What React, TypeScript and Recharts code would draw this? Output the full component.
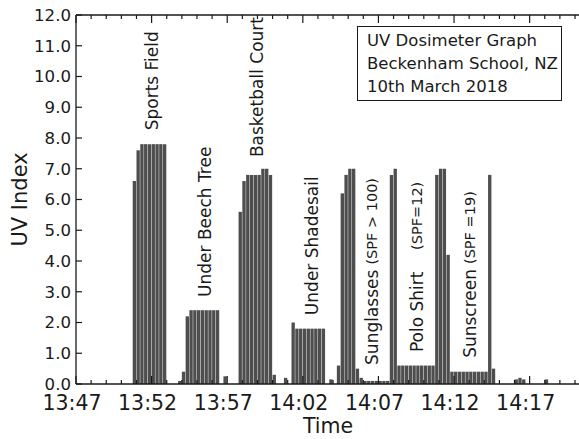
import { BarChart, Bar, XAxis, YAxis, ReferenceDot } from "recharts";

const FONT = "DejaVu Sans";
const INK = "#1a1a1a";
const BAR = "#4e4e4e";

// clock time of tick 0
const startHour = 13;
const startMinute = 47;

// dosimeter readings, one per 15 s from 13:47:00 (one row = one minute)
const uvReadings = [
  0, 0, 0, 0,
  0, 0, 0, 0,
  0, 0, 0, 0,
  0, 0, 0, 6.6,
  7.6, 7.8, 7.8, 7.8,
  7.8, 7.8, 7.8, 7.8,
  0, 0, 0, 0.1,
  0.4, 2.2, 2.4, 2.4,
  2.4, 2.4, 2.4, 2.4,
  2.4, 2.4, 0, 0.25,
  0, 0, 0, 5.6,
  6.6, 6.8, 6.8, 6.8,
  6.8, 7.0, 7.0, 6.8,
  0.3, 0, 0, 0.2,
  0, 2.0, 1.8, 1.8,
  1.8, 1.8, 1.8, 1.8,
  1.8, 1.8, 0, 0.15,
  0, 0.6, 6.2, 6.8,
  7.0, 7.0, 0.5, 0.2,
  0.1, 0.1, 0.1, 0.1,
  0.1, 0.1, 0.1, 6.8,
  7.0, 0.6, 0.6, 0.6,
  0.6, 0.6, 0.6, 0.6,
  0.6, 0.6, 0.6, 6.8,
  7.0, 7.0, 4.2, 0.4,
  0.4, 0.4, 0.4, 0.4,
  0.4, 0.4, 0.4, 0.4,
  0.4, 6.8, 0.5, 0,
  0, 0, 0, 0,
  0.15, 0.2, 0.15, 0,
  0, 0, 0, 0,
  0.15, 0, 0, 0,
  0, 0, 0, 0,
  0,
];

const minuteTicks = Array.from({ length: 34 }, (_, i) => i);
const majorTicks = [0, 5, 10, 15, 20, 25, 30];
const uvTicks = [0, 1, 2, 3, 4, 5, 6, 7, 8, 9, 10, 11, 12];

// vertical activity labels: minute, UV level where the text starts
const activities = [
  { t: 5.0, uv: 8.25, text: "Sports Field", note: "" },
  { t: 8.5, uv: 2.83, text: "Under Beech Tree", note: "" },
  { t: 11.95, uv: 7.38, text: "Basketball Court", note: "" },
  { t: 15.6, uv: 2.24, text: "Under Shadesail", note: "" },
  { t: 19.55, uv: 0.62, text: "Sunglasses", note: "(SPF > 100)" },
  { t: 22.55, uv: 1.04, text: "Polo Shirt", note: "" },
  { t: 22.55, uv: 4.36, text: "", note: "(SPF=12)" },
  { t: 26.05, uv: 0.85, text: "Sunscreen", note: "(SPF =19)" },
];

const data = uvReadings.map((uv, i) => ({ t: (i + 0.5) / 4, uv }));

function clock(m: number) {
  const total = startHour * 60 + startMinute + m;
  const h = Math.floor(total / 60);
  const mm = total % 60;
  return `${h}:${mm < 10 ? "0" : ""}${mm}`;
}

const BottomTick = (props: any) => {
  const { x, y, payload } = props;
  const major = majorTicks.includes(payload.value);
  return (
    <g>
      <line x1={x} x2={x} y1={y} y2={y - (major ? 8 : 4)} stroke={INK} strokeWidth={1.2} />
      {major && (
        <text x={x - 4} y={y + 26} textAnchor="middle" fontSize={20.5} fontFamily={FONT} fill={INK}>
          {clock(payload.value)}
        </text>
      )}
    </g>
  );
};

const TopTick = (props: any) => {
  const { x, y, payload } = props;
  const major = majorTicks.includes(payload.value);
  return <line x1={x} x2={x} y1={y} y2={y + (major ? 8 : 4)} stroke={INK} strokeWidth={1.2} />;
};

const LeftTick = (props: any) => {
  const { x, y, payload } = props;
  return (
    <g>
      <line x1={x} x2={x + 6} y1={y} y2={y} stroke={INK} strokeWidth={1.2} />
      <text x={x - 5} y={y} dy="0.36em" textAnchor="end" fontSize={16.6} fontFamily={FONT} fill={INK}>
        {payload.value.toFixed(1)}
      </text>
    </g>
  );
};

const RightTick = (props: any) => {
  const { x, y } = props;
  return <line x1={x} x2={x - 6} y1={y} y2={y} stroke={INK} strokeWidth={1.2} />;
};

const ActivityLabel = (text: string, note: string) => (props: any) => {
  const { cx, cy } = props;
  return (
    <text
      x={cx}
      y={cy}
      transform={`rotate(-90 ${cx} ${cy})`}
      dominantBaseline="central"
      fontFamily={FONT}
      fill={INK}
      fontSize={17}
    >
      {text}
      {note && (
        <tspan fontSize={14.5} dx={text ? 5 : 0}>
          {note}
        </tspan>
      )}
    </text>
  );
};

export default function App() {
  return (
    <div
      style={{
        position: "absolute",
        left: 0,
        top: 0,
        width: 579,
        height: 439,
        overflow: "hidden",
        background: "#fff",
        fontFamily: FONT,
      }}
    >
      <BarChart width={582} height={439} data={data} margin={{ top: 14, right: 0, bottom: 0, left: 0 }}>
        <XAxis
          dataKey="t"
          type="number"
          domain={[0, 33.33]}
          ticks={minuteTicks}
          interval={0}
          tick={<BottomTick />}
          tickSize={0}
          tickMargin={0}
          height={55}
          axisLine={{ stroke: INK, strokeWidth: 1.3 }}
          label={{ value: "Time", position: "insideBottom", offset: 6, fontSize: 20.5, fontFamily: FONT, fill: INK }}
        />
        <XAxis
          xAxisId="top"
          dataKey="t"
          type="number"
          orientation="top"
          domain={[0, 33.33]}
          ticks={minuteTicks}
          interval={0}
          tick={<TopTick />}
          tickSize={0}
          tickMargin={0}
          height={1}
          axisLine={{ stroke: INK, strokeWidth: 1.3 }}
        />
        <YAxis
          type="number"
          domain={[0, 12]}
          ticks={uvTicks}
          interval={0}
          width={76}
          tick={<LeftTick />}
          tickSize={0}
          tickMargin={0}
          axisLine={{ stroke: INK, strokeWidth: 1.3 }}
          label={{
            value: "UV Index",
            angle: -90,
            position: "insideLeft",
            offset: 20,
            fontSize: 21,
            fontFamily: FONT,
            fill: INK,
            style: { textAnchor: "middle" },
          }}
        />
        <YAxis
          yAxisId="right"
          orientation="right"
          type="number"
          domain={[0, 12]}
          ticks={uvTicks}
          interval={0}
          width={2}
          tick={<RightTick />}
          tickSize={0}
          tickMargin={0}
          axisLine={{ stroke: INK, strokeWidth: 1.3 }}
        />
        <Bar dataKey="uv" fill={BAR} barSize={3.35} isAnimationActive={false} />
        {activities.map((a) => (
          <ReferenceDot
            key={`${a.text}-${a.note}`}
            x={a.t}
            y={a.uv}
            r={0}
            shape={ActivityLabel(a.text, a.note)}
          />
        ))}
      </BarChart>
      <div
        style={{
          position: "absolute",
          left: 357,
          top: 26,
          width: 205,
          height: 75,
          boxSizing: "border-box",
          border: `1px solid ${INK}`,
          padding: "2px 0 0 9px",
          fontSize: 16.5,
          lineHeight: "23px",
          color: INK,
          background: "#fff",
        }}
      >
        <div>UV Dosimeter Graph</div>
        <div>Beckenham School, NZ</div>
        <div>10th March 2018</div>
      </div>
    </div>
  );
}
